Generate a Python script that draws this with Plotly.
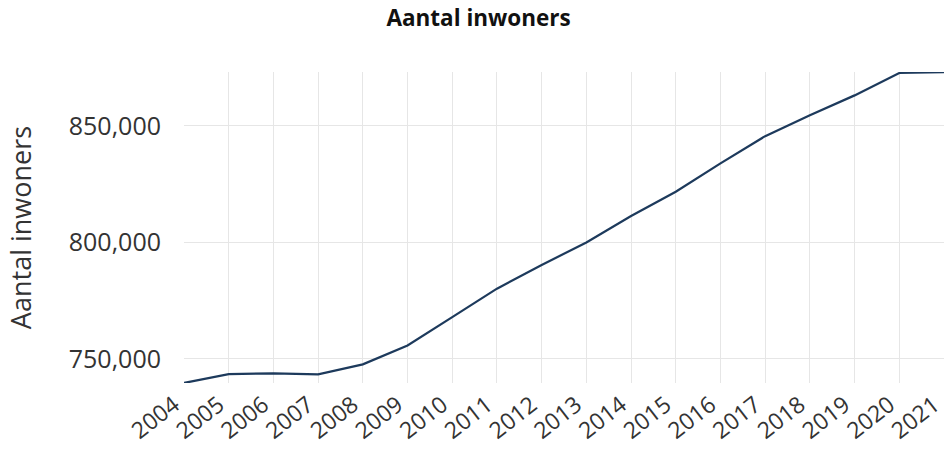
import plotly.graph_objects as go

years = list(range(2004, 2022))
inwoners = [739600, 743400, 743700, 743300, 747600, 755700, 767900, 780100, 790300,
            799900, 811300, 821700, 833900, 845600, 854600, 863100, 872700, 873100]
y_ticks = [750000, 800000, 850000]
y_tick_labels = ["750,000", "800,000", "850,000"]

title_text = "Aantal inwoners"
y_title = "Aantal inwoners"

FONT = "'Open Sans', Lato, sans-serif"

fig = go.Figure()
fig.add_trace(go.Scatter(
    x=years, y=inwoners, mode="lines",
    line=dict(color="#1d3a5c", width=2.2),
    hoverinfo="x+y", showlegend=False,
))

fig.update_layout(
    width=944, height=451,
    margin=dict(l=184, r=0, t=72, b=68, autoexpand=False),
    paper_bgcolor="white", plot_bgcolor="white",
    font=dict(family=FONT, color="#333333"),
    title=dict(text="<b>" + title_text + "</b>", x=0.507, xanchor="center",
               y=0.96, yanchor="middle",
               font=dict(size=22.5, color="#111111", family=FONT)),
)
fig.update_xaxes(
    range=[2004, 2021], tickmode="array", tickvals=years,
    ticktext=[str(y) for y in years], tickangle=-38,
    showgrid=True, gridcolor="#e6e6e6", gridwidth=1,
    zeroline=False, showline=False, ticks="",
    ticklabeloverflow="allow", ticklabelstandoff=3, ticklabelshift=-10,
    tickfont=dict(size=23, color="#333333", family=FONT),
)
fig.update_yaxes(
    range=[739586, 873140], tickmode="array", tickvals=y_ticks,
    ticktext=y_tick_labels,
    showgrid=True, gridcolor="#e6e6e6", gridwidth=1,
    zeroline=False, showline=False, ticks="",
    ticklabelstandoff=22,
    tickfont=dict(size=25, color="#333333", family=FONT),
    title=dict(text=y_title, font=dict(size=27, color="#333333", family=FONT), standoff=29),
    automargin=False,
)

fig.write_html("out.html")
